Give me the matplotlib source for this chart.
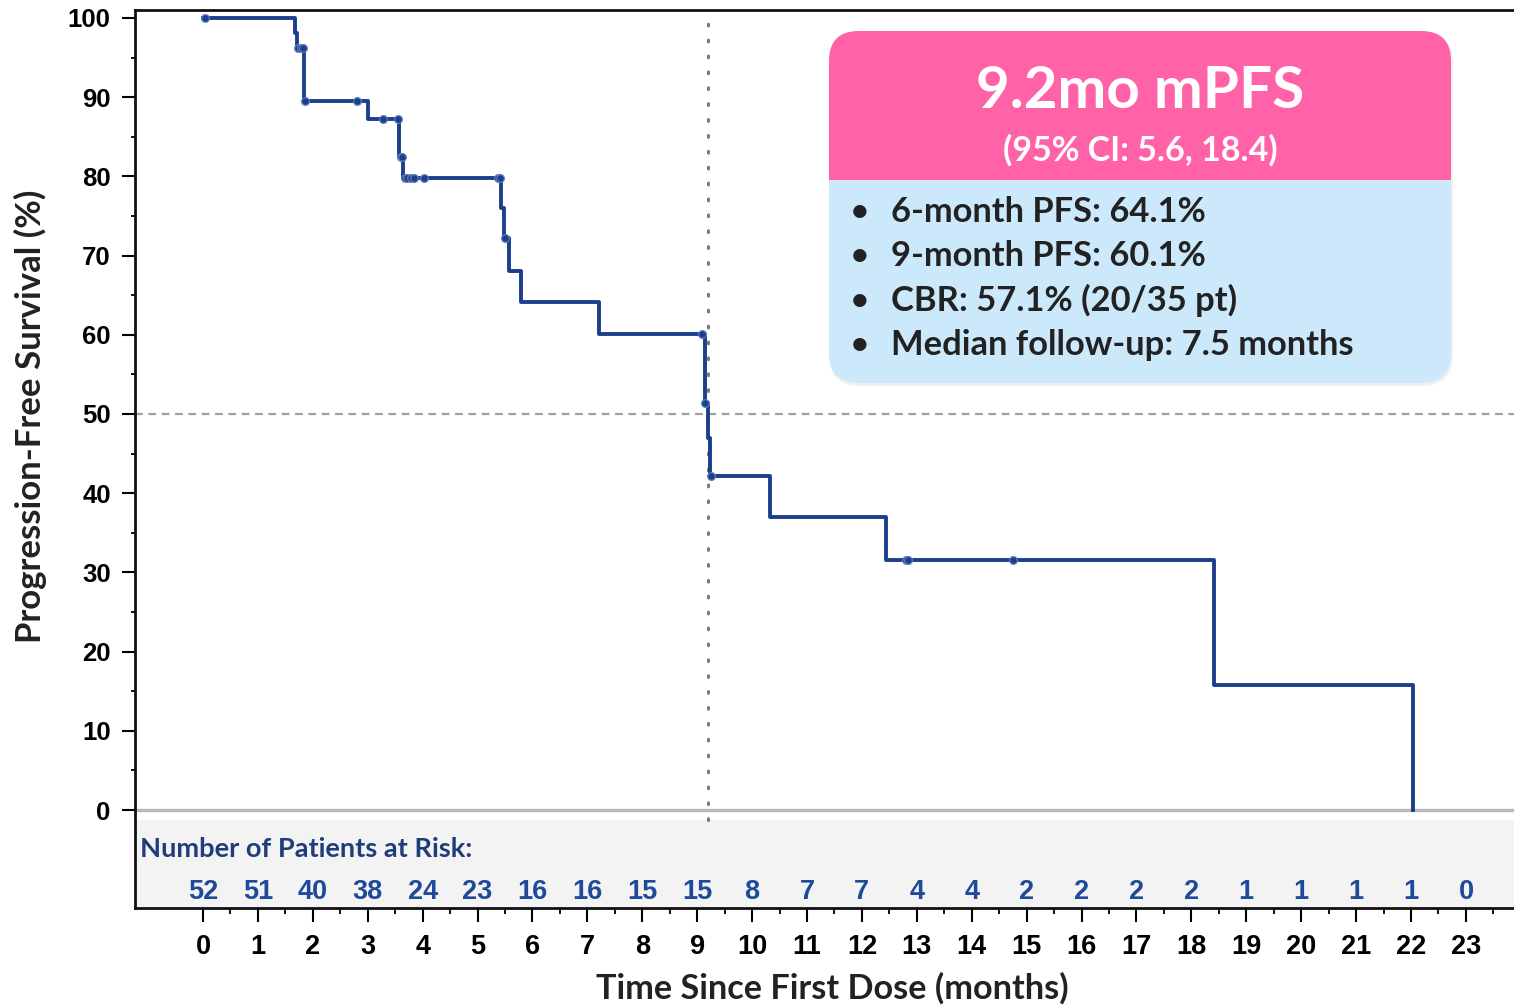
import numpy as np
import matplotlib
matplotlib.use("Agg")
import matplotlib.pyplot as plt
from matplotlib.patches import FancyBboxPatch, Rectangle

# KM curve: time of each drop (months) and survival (%) after it
event_times = [0.0, 1.68, 1.72, 1.84, 3.00, 3.57, 3.64, 5.42, 5.48, 5.57, 5.79,
               7.21, 9.14, 9.20, 9.24, 10.33, 12.44, 18.41, 22.04]
survival = [100.0, 98.1, 96.2, 89.5, 87.2, 82.4, 79.8, 76.0, 72.2, 68.1, 64.1,
            60.1, 51.4, 47.0, 42.2, 37.0, 31.6, 15.8, 0.0]

# censored observations (months)
censor_times = [0.04, 1.73, 1.78, 1.83, 1.86, 2.80, 3.28, 3.56, 3.60, 3.62,
                3.67, 3.72, 3.78, 3.85, 4.02, 5.38, 5.40, 5.50, 9.08, 9.15,
                9.25, 12.80, 12.84, 14.75]

months = list(range(24))
at_risk = [52, 51, 40, 38, 24, 23, 16, 16, 15, 15, 8, 7, 7, 4, 4, 2, 2, 2, 2, 1, 1, 1, 1, 0]

median_pfs = 9.2
bullets = ["6-month PFS: 64.1%", "9-month PFS: 60.1%",
           "CBR: 57.1% (20/35 pt)", "Median follow-up: 7.5 months"]

W, H = 1514, 1006
navy = "#1b3f8b"
txt_font = ["Lato", "DejaVu Sans"]
num_font = ["Liberation Sans", "DejaVu Sans"]

fig = plt.figure(figsize=(W / 100, H / 100), dpi=100)
ax = fig.add_axes([135 / W, (H - 908) / H, (W - 135) / W, (908 - 10) / H])

ymin, ymax = -12.37, 101.0
ax.set_xlim(-1.238, 23.875)
ax.set_ylim(ymin, ymax)

# at-risk table band and reference lines
ax.axhspan(ymin, -1.26, color="#f3f3f3", lw=0, zorder=0)
ax.axhline(0, color="#b8b8b8", lw=2.4, zorder=1)
ax.axhline(50, color="#a0a0a0", lw=1.6, ls=(0, (3.5, 2.5)), zorder=1)
ax.plot([median_pfs, median_pfs], [-1.3, ymax], color="#7a7a7a", lw=2.2,
        ls=(0, (0.6, 4.6)), dash_capstyle="round", zorder=1)

# survival curve
ax.step(event_times, survival, where="post", color=navy, lw=2.8, zorder=3)
idx = np.searchsorted(event_times, censor_times, side="right") - 1
censor_vals = np.array(survival)[idx]
ax.plot(censor_times, censor_vals, "o", ms=5.5, mfc=navy, mec="#5c7bbd",
        mew=0.9, zorder=4)

# axes styling
ax.spines["right"].set_visible(False)
for s in ["left", "top", "bottom"]:
    ax.spines[s].set_linewidth(2)
    ax.spines[s].set_color("#111111")

ax.set_yticks(range(0, 101, 10))
ax.set_yticks(range(5, 100, 10), minor=True)
ax.set_xticks(months)
ax.set_xticks(np.arange(0.5, 23.6, 1), minor=True)
ax.tick_params(axis="y", which="major", length=9.5, width=1.5, pad=8, labelsize=18.5)
ax.tick_params(axis="y", which="minor", length=3, width=1.3)
ax.tick_params(axis="x", which="major", length=10, width=1.5, pad=9, labelsize=19.5)
ax.tick_params(axis="x", which="minor", length=4.5, width=1.3)
for lab in ax.get_xticklabels() + ax.get_yticklabels():
    lab.set_fontfamily(num_font)
    lab.set_fontweight("bold")

# number at risk
ax.text(-1.147, -4.92, "Number of Patients at Risk:", ha="left", va="center",
        fontsize=19.6, fontweight="bold", color="#1f3d7a", family=txt_font)
for m, n in zip(months, at_risk):
    ax.text(m, -10.4, str(n), ha="center", va="center", fontsize=19.5,
            fontweight="bold", color="#1f4a99", family=num_font)

fig.text(30 / W, 1 - 416 / H, "Progression-Free Survival (%)", rotation=90,
         ha="center", va="center", fontsize=25, fontweight="bold",
         color="#222222", family=txt_font)
fig.text(832 / W, 1 - 988 / H, "Time Since First Dose (months)", ha="center",
         va="center", fontsize=24.7, fontweight="bold", color="#222222",
         family=txt_font)

# summary box drawn in pixel coordinates
ov = fig.add_axes([0, 0, 1, 1], zorder=5)
ov.set_xlim(0, W)
ov.set_ylim(H, 0)
ov.axis("off")
bx0, by0, bx1, by1, r = 829, 31, 1451, 383, 30
shadow = FancyBboxPatch((bx0 + r + 1, by0 + r + 2), bx1 - bx0 - 2 * r, by1 - by0 - 2 * r,
                        boxstyle=f"round,pad={r + 1}", fc="#000000", ec="none", alpha=0.06)
ov.add_patch(shadow)
blue = FancyBboxPatch((bx0 + r, by0 + r), bx1 - bx0 - 2 * r, by1 - by0 - 2 * r,
                      boxstyle=f"round,pad={r}", fc="#cce8fb", ec="none")
ov.add_patch(blue)
pink = FancyBboxPatch((bx0 + r, by0 + r), bx1 - bx0 - 2 * r, by1 - by0 - 2 * r,
                      boxstyle=f"round,pad={r}", fc="#ff62a6", ec="none")
ov.add_patch(pink)
pink.set_clip_path(Rectangle((bx0 - 5, by0 - 5), bx1 - bx0 + 10, 180 - by0 + 5,
                             transform=ov.transData))

ov.text(1140, 91, "9.2mo mPFS", ha="center", va="center", fontsize=42,
        fontweight="bold", color="white", family=txt_font)
ov.text(1140, 150, "(95% CI: 5.6, 18.4)", ha="center", va="center",
        fontsize=24.5, fontweight="bold", color="white", family=txt_font)
for i, b in enumerate(bullets):
    y = 212 + i * 44.3
    ov.text(860, y, "\u2022", ha="center", va="center", fontsize=22,
            fontweight="bold", color="#222222", family=txt_font)
    ov.text(891, y, b, ha="left", va="center", fontsize=24.8,
            fontweight="bold", color="#222222", family=txt_font)

fig.savefig("out.png", dpi=100)
